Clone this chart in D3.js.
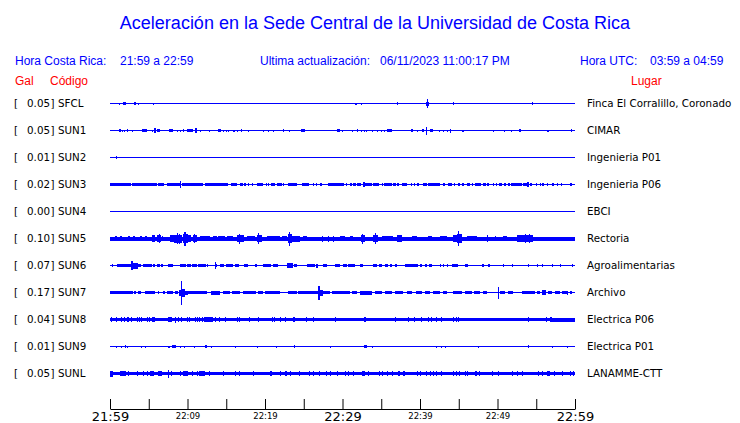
<!DOCTYPE html>
<html>
<head>
<meta charset="utf-8">
<script src="https://cdn.jsdelivr.net/npm/d3@7"></script>
<style>
  html, body { margin: 0; padding: 0; background: #ffffff; }
  svg { display: block; }
</style>
</head>
<body>
<div id="chart"></div>
<script>
// ---------------- DATA ----------------
const titleText = "Aceleración en la Sede Central de la Universidad de Costa Rica";
const stations = ["SFCL","SUN1","SUN2","SUN3","SUN4","SUN5","SUN6","SUN7","SUN8","SUN9","SUNL"];
const galValues = [0.05, 0.05, 0.01, 0.02, 0.00, 0.10, 0.07, 0.17, 0.04, 0.01, 0.05];
const places = ["Finca El Corralillo, Coronado","CIMAR","Ingenieria P01","Ingenieria P06","EBCI",
  "Rectoria","Agroalimentarias","Archivo","Electrica P06","Electrica P01","LANAMME-CTT"];
// background noise half-amplitude (relative units) per station
const baseAmp = [0.5, 0.5, 0.5, 0.5, 0.5, 2.0, 0.5, 0.6, 1.7, 0.5, 1.7];
// time axis (minutes since 21:59) and tick labels
const tickMinutes = [0,5,10,15,20,25,30,35,40,45,50,55,60];
const tickLabels = ["21:59","","22:09","","22:19","","22:29","","22:39","","22:49","","22:59"];
const tickMajor  = [true,false,false,false,false,false,true,false,false,false,false,false,true];

// events: [start minute, end minute, half-amplitude]
const evSFCL = [[0.55,0.55,0.8],[1.2,1.2,1],[1.72,2.06,1.5],[3.14,3.35,1.5],[3.65,3.65,1],[5.59,5.59,1],
  [31.6,31.6,1],[31.8,31.8,1],[32.4,32.4,1],[37.0,37.0,1.2],[40.75,41.1,2],[40.85,40.95,4.5],[44.2,44.2,1.2],
  [46.7,46.7,0.8],[54.4,54.4,1.2]];
const evSUN1 = [[1.2,1.38,1.5],[1.59,1.59,1],[1.81,1.81,1],[2.15,2.15,1.2],[2.8,2.8,1],[3.13,3.13,0.8],
  [4.17,4.73,1.5],[5.38,5.38,1],[5.68,5.9,2.5],[6.1,6.45,1.5],[7.61,8.09,1.5],[8.6,8.6,1],[9.03,9.03,1],
  [9.46,9.46,1.2],[9.97,10.75,1.5],[10.97,11.18,2.5],[11.6,11.6,1],[12.35,12.35,0.8],[12.8,12.8,1],
  [13.97,14.28,1.5],[14.6,14.6,1],[14.96,14.96,1],[15.26,15.26,1],[15.83,15.83,1],[16.03,16.03,1],
  [16.34,16.34,1],[16.86,17.03,1.3],[17.76,17.76,1],[19.7,19.7,1],[20.12,20.12,0.8],[20.34,20.55,1],
  [21.07,21.07,1],[22.28,22.28,1.3],[23.13,23.13,1],[24.68,25.19,1.3],[26.48,26.48,0.8],[29.28,29.67,1.5],
  [29.97,29.97,1],[30.53,30.53,0.8],[31.18,31.18,1],[31.82,31.82,1.2],[32.34,32.34,1],[32.8,32.8,1],
  [33.02,33.02,1],[33.84,33.84,1],[34.48,34.48,1],[34.92,34.92,1],[35.35,35.35,1],[35.69,36.34,1.5],
  [38.83,39.13,1.3],[39.56,39.56,1],[40.21,40.51,1.3],[40.76,40.76,4],[41.28,41.63,1.5],[42.48,42.48,1],
  [43.0,43.0,1],[43.51,43.51,1],[43.86,44.03,2],[45.37,45.37,1],[45.58,45.58,1],[47.73,47.73,0.8],
  [49.45,49.45,1],[49.79,49.79,0.8],[50.86,50.86,1],[51.69,51.69,1],[52.8,52.98,1.5],[56.41,56.67,1],
  [59.51,59.51,1.2]];
const evSUN2 = [[0.81,0.81,1.5]];
const evSUN3 = [[0,2.67,1.7],[2.8,6.02,1.7],[6.15,6.97,1.7],[7.31,9.12,1.7],[9.03,9.03,3.5],[9.25,12.04,1.7],
  [12.26,15.27,1.7],[15.61,16.43,1.5],[16.77,17.11,1.5],[17.33,17.54,1.5],[17.84,17.93,1.5],[18.27,18.27,1.3],
  [18.92,19.78,1.5],[20.08,20.21,1.3],[20.43,20.51,1.3],[20.77,21.29,1.5],[21.5,22.15,1.5],[22.36,22.49,1.3],
  [22.92,24.08,1.5],[24.73,25.71,1.5],[26.14,26.23,1.3],[26.57,26.57,1.3],[27.09,27.31,1.3],[28.08,29.67,1.5],
  [29.67,30.19,1.5],[30.4,30.62,1.5],[30.96,31.18,1.5],[31.39,31.69,1.5],[31.91,32.33,1.5],[32.59,32.9,2.5],
  [32.9,33.76,1.5],[33.97,34.74,1.5],[35.04,35.17,1.5],[35.35,36.34,1.5],[36.55,36.9,1.5],[37.07,37.28,1.5],
  [37.62,38.27,1.5],[38.79,38.92,1.5],[39.22,39.35,1.5],[39.65,39.86,1.5],[40.33,40.94,1.5],[41.07,42.57,1.5],
  [42.91,43.22,1.5],[43.56,44.16,1.5],[44.38,44.46,1.5],[44.94,45.15,1.5],[45.45,45.67,1.5],[46.01,46.44,1.5],
  [46.66,46.87,1.5],[47.09,47.82,1.5],[48.16,48.5,1.5],[48.68,48.93,1.5],[49.36,49.54,1.5],[49.79,49.97,1.5],
  [50.22,50.53,1.5],[50.83,51.08,1.5],[51.39,51.6,1.5],[51.69,53.11,1.5],[53.23,53.75,1.5],[53.83,54.05,2.5],
  [54.18,54.4,1.5],[54.95,55.04,1.5],[55.47,55.47,1.5],[55.69,55.99,1.5],[56.33,56.55,1.5],[57.06,57.28,1.5],
  [57.62,57.84,1.5],[58.14,58.27,1.5],[59.34,59.56,1.5]];
const evSUN4 = [];
const evSUN5 = [[0.65,0.86,2.8],[1.29,1.5,2.8],[2.37,2.58,2.8],[3.01,3.23,2.8],[3.87,4.09,2.8],[4.52,4.73,2.8],
  [5.38,5.81,3.2],[6.11,6.54,3.5],[6.3,6.35,4.5],[6.67,6.88,2.8],[7.74,8.26,3.5],[8.26,9.25,4],[8.6,8.7,5.5],
  [8.9,9.0,5],[9.46,10.1,4.5],[9.6,9.75,7],[10.1,10.41,3.5],[10.75,11.18,3.5],[10.9,11.0,4.5],[11.61,12.9,2.7],
  [13.33,13.76,2.7],[13.98,14.84,2.6],[15.05,15.91,2.7],[16.34,17.29,3.5],[16.6,16.7,5],[17.63,18.7,2.6],
  [18.92,19.56,3.5],[19.1,19.2,5.5],[20.21,21.93,2.5],[22.15,22.79,2.8],[23.0,23.43,4.5],[23.1,23.2,7],
  [23.43,24.51,3],[24.94,25.37,2.8],[27.3,27.3,3],[28.17,28.17,3],[28.81,28.81,3],[29.67,30.32,2.8],
  [30.96,31.39,2.8],[32.34,32.9,3.5],[32.5,32.6,5],[33.97,34.62,3.5],[34.2,34.3,5.5],[35.04,36.55,2.8],
  [36.98,37.63,3.2],[37.2,37.3,3.8],[38.92,39.56,2.8],[41.07,41.5,2.8],[42.57,43.43,2.6],[44.29,44.8,3.5],
  [44.8,45.37,4.5],[44.95,45.05,7.5],[46.01,47.3,2.8],[48.59,48.59,3.2],[49.67,49.67,2.8],[50.74,51.17,2.8],
  [52.46,53.11,3.2],[53.11,54.61,3.5],[53.5,53.6,4.7],[54.0,54.1,4.5]];
const evSUN6 = [[0.22,0.22,1.5],[0.86,2.79,1.5],[2.71,3.01,4.5],[3.01,3.57,3],[3.57,3.96,1.5],[4.3,5.38,1.5],
  [5.59,5.81,1.5],[6.11,6.45,1.5],[6.58,6.88,1.5],[7.53,8.08,1.5],[9.03,9.8,1.5],[9.98,10.41,1.5],
  [10.54,11.18,1.5],[11.39,12.38,1.5],[12.47,12.69,1.5],[13.55,13.55,3.5],[13.55,13.85,1.5],[14.19,14.71,1.5],
  [14.96,15.91,1.5],[16.13,16.68,1.5],[17.29,17.84,1.5],[18.7,18.92,1.5],[19.78,20.73,1.5],[21.07,21.72,1.5],
  [22.79,23.65,2.5],[23.78,24.08,1.5],[25.37,26.45,1.5],[26.57,26.87,2],[27.52,27.95,1.5],[29.03,29.67,1.5],
  [30.1,30.53,1.5],[30.75,31.6,1.5],[32.25,32.68,1.5],[33.97,34.4,1.5],[34.74,35.04,1.5],[35.47,35.9,1.5],
  [36.12,36.34,1.5],[36.77,37.07,1.5],[38.06,39.78,1.5],[39.99,40.21,1.5],[40.63,40.85,1.5],[41.2,41.5,1.5],
  [42.57,42.57,1.5],[43.0,43.0,1.5],[43.43,43.65,1.5],[44.08,44.94,1.5],[45.8,46.23,1.5],[47.95,48.25,1.5],
  [48.8,49.02,1.5],[50.74,50.74,1.5],[51.82,52.03,1.5],[53.97,53.97,1.5],[55.04,55.26,1.5],[55.69,55.9,1.5],
  [56.98,56.98,1.5],[58.05,58.05,1.5],[59.56,59.56,1.5]];
const evSUN7 = [[0,2.92,1.5],[3.14,3.31,1.5],[3.66,3.96,1.5],[4.52,5.81,1.5],[6.24,6.24,1.5],[6.8,7.1,1.5],
  [7.31,8.17,1.5],[8.39,8.82,1.5],[8.94,9.16,3],[9.16,9.29,12],[9.29,9.68,4],[9.68,10.1,2],[10.1,12.47,1.5],
  [13.03,14.19,2],[14.53,15.48,1.5],[15.7,16.77,1.5],[17.11,18.83,1.5],[19.13,19.78,1.5],[20.0,21.93,1.5],
  [23.0,24.08,1.5],[24.29,26.87,1.5],[26.87,27.09,7],[27.09,27.43,3],[27.52,28.38,1.5],[28.6,29.67,1.5],
  [29.67,30.96,1.5],[31.18,31.82,1.5],[32.25,33.76,2],[34.18,35.04,1.5],[35.47,36.34,1.5],[36.77,37.84,1.5],
  [38.27,38.92,1.5],[39.47,40.21,1.5],[40.63,41.28,1.5],[41.62,42.57,1.5],[43.0,43.43,1.5],[44.29,45.37,1.5],
  [45.8,46.66,1.5],[47.0,47.73,1.5],[48.16,48.59,1.5],[50.1,50.1,6],[50.31,50.96,1.5],[51.39,52.03,1.5],
  [53.11,54.83,1.5],[55.04,55.47,1.5],[55.69,56.24,2.5],[56.55,56.98,1.5],[57.41,58.05,1.5],[58.27,58.91,1.5],
  [58.91,58.91,2],[59.34,59.56,1.5]];
const evSUN8 = [[0.13,0.13,2.5],[0.77,0.77,2.5],[1.42,1.42,2.5],[1.81,1.81,2.5],[2.15,2.15,2.5],[2.37,2.37,2.5],
  [2.71,2.71,2.5],[3.53,3.53,2.5],[3.78,3.78,2.5],[4.04,4.04,2.5],[4.73,4.73,2.5],[5.07,5.07,2.5],
  [5.38,5.81,2.2],[7.53,7.96,2.3],[8.39,8.39,3],[8.82,8.82,2.5],[9.12,9.12,2.5],[9.98,9.98,2.5],
  [10.23,10.23,2.5],[10.97,10.97,2.5],[11.18,11.18,2.5],[11.52,11.52,2.5],[11.82,11.82,2.5],[12.13,13.33,2.5],
  [13.55,13.55,2.5],[14.1,14.1,2.5],[14.84,14.84,2.5],[16.34,16.34,2.5],[16.68,16.68,2.5],[17.97,17.97,2.5],
  [19.13,19.13,2.5],[20.86,20.86,2.5],[21.16,21.16,2.5],[21.93,21.93,2.5],[22.58,22.58,2.5],[23.56,23.86,2.3],
  [25.28,25.28,2.5],[26.23,26.23,2.5],[29.03,29.03,2.5],[32.77,33.02,2.5],[36.77,36.77,2.5],[38.49,38.49,2.5],
  [39.22,39.22,2.5],[40.12,40.12,2.5],[41.07,41.07,2.5],[41.37,41.37,2.5],[42.05,42.05,2.5],[42.66,42.66,2.5],
  [44.2,44.2,2.5],[44.59,44.59,2.5],[44.94,44.94,2.5],[53.97,53.97,2.5],[56.24,56.24,2.5],[56.76,56.98,2.5],
  [56.98,60,2]];
const evSUN9 = [[0.77,0.77,1],[1.38,1.38,1],[1.93,1.93,1.5],[2.24,2.24,1],[4.0,4.0,1],[4.52,4.52,1],
  [7.53,7.74,1],[7.96,8.52,1.5],[9.03,9.03,1],[9.59,9.59,1],[10.84,10.84,1],[12.26,12.56,1.2],[13.03,13.03,1],
  [16.13,16.13,1],[19.0,19.0,1],[21.37,21.37,1],[23.78,23.78,1.2],[28.38,28.38,1],[32.77,33.11,1.5],
  [33.84,33.84,1],[42.01,42.01,1],[42.7,42.7,1],[43.26,43.26,1],[47.43,47.43,1],[53.97,53.97,1.2],
  [57.06,57.06,1],[58.91,58.91,1]];
const evSUNL = [[0,0.34,3],[1.29,2.07,2.5],[2.37,2.37,2.5],[3.44,3.66,2.5],[4.3,4.3,2.5],[4.73,4.73,2.5],
  [5.16,5.72,2.5],[6.24,6.67,2.5],[7.53,7.53,4],[7.83,7.83,2.5],[9.03,9.03,2.5],[9.46,10.1,2.5],
  [10.54,10.54,2.5],[11.18,11.18,2.5],[11.52,12.26,2.5],[12.81,12.81,2.5],[14.53,14.53,2.5],[16.13,16.13,2.5],
  [16.68,16.68,2.5],[18.4,18.4,2.5],[20.64,20.86,2.5],[21.93,21.93,2.5],[22.58,22.79,2.5],[23.22,23.22,2.5],
  [24.42,24.42,2.5],[25.71,25.71,2.5],[26.23,26.23,2.5],[27.0,27.0,2.5],[27.86,27.86,2.5],[28.38,28.38,2.5],
  [29.24,29.24,2.5],[30.32,30.32,2.5],[30.75,30.75,2.5],[31.39,31.39,2.5],[32.47,32.9,2.5],[33.24,33.24,2.5],
  [34.7,34.7,2.5],[35.04,35.26,2.5],[35.69,35.69,2.5],[36.34,36.34,2.5],[37.2,37.41,2.5],[37.84,38.06,2.5],
  [39.56,39.56,2.5],[39.99,39.99,2.5],[40.76,40.76,2.5],[41.28,41.28,2.5],[41.71,41.71,2.5],[42.05,42.05,2.5],
  [42.66,42.66,2.5],[44.29,44.29,2.5],[44.59,44.59,2.5],[45.02,45.02,2.5],[45.8,45.8,2.5],[46.1,46.1,2.5],
  [47.09,47.3,2.5],[47.64,47.64,2.8],[49.23,49.23,2.5],[50.1,50.1,2.5],[51.82,51.82,2.5],[52.46,52.46,2.5],
  [53.11,53.32,2.5],[55.26,55.26,2.5],[55.69,55.69,2.5],[56.33,56.33,2.5],[56.55,56.76,2.8],[57.28,57.28,2.5],
  [58.27,58.27,2.5],[59.34,59.34,2.5],[59.77,59.77,2.5]];
const events = [evSFCL, evSUN1, evSUN2, evSUN3, evSUN4, evSUN5, evSUN6, evSUN7, evSUN8, evSUN9, evSUNL];

// ---------------- DRAW ----------------
const W = 740, H = 423;
const BLUE = "#0000ff", RED = "#ff0000";
const svg = d3.select("#chart").append("svg").attr("width", W).attr("height", H);

const t0 = new Date(2023, 5, 11, 21, 59, 0);
const toDate = m => new Date(t0.getTime() + m * 60000);
const x = d3.scaleTime().domain([toDate(0), toDate(60)]).range([110, 575]);
const y = d3.scalePoint().domain(stations).range([103.5, 373.5]);
const a = d3.scaleLinear().domain([0, 10]).range([0, 10]);

// title + headers
svg.append("text").attr("x", 375).attr("y", 29).attr("text-anchor", "middle")
  .attr("font-family", "Liberation Sans, Arial, sans-serif").attr("font-size", 18)
  .attr("fill", BLUE).text(titleText);

const hdr = [
  {x: 15, y: 65, t: "Hora Costa Rica:", c: BLUE},
  {x: 120, y: 65, t: "21:59 a 22:59", c: BLUE},
  {x: 260, y: 65, t: "Ultima actualización:", c: BLUE},
  {x: 380, y: 65, t: "06/11/2023 11:00:17 PM", c: BLUE},
  {x: 580, y: 65, t: "Hora UTC:", c: BLUE},
  {x: 650, y: 65, t: "03:59 a 04:59", c: BLUE},
  {x: 15, y: 85, t: "Gal", c: RED},
  {x: 50, y: 85, t: "Código", c: RED},
  {x: 631, y: 85, t: "Lugar", c: RED}
];
svg.append("g").selectAll("text").data(hdr).join("text")
  .attr("x", d => d.x).attr("y", d => d.y).attr("fill", d => d.c)
  .attr("font-family", "Liberation Sans, Arial, sans-serif").attr("font-size", 12)
  .text(d => d.t);

// rows
const rows = svg.append("g").selectAll("g.row").data(stations).join("g").attr("class", "row");
const lblFont = "DejaVu Sans, sans-serif", lblSize = 10.3;

rows.append("text").attr("x", 14).attr("y", d => y(d) + 3.5)
  .attr("font-family", lblFont).attr("font-size", lblSize).text("[");
rows.append("text").attr("x", 50).attr("y", d => y(d) + 3.5).attr("text-anchor", "end")
  .attr("font-family", lblFont).attr("font-size", lblSize).text((d, i) => galValues[i].toFixed(2));
rows.append("text").attr("x", 50.5).attr("y", d => y(d) + 3.5)
  .attr("font-family", lblFont).attr("font-size", lblSize).text("]");
rows.append("text").attr("x", 58).attr("y", d => y(d) + 3.5)
  .attr("font-family", lblFont).attr("font-size", lblSize).text(d => d);
rows.append("text").attr("x", 587).attr("y", d => y(d) + 3.5)
  .attr("font-family", lblFont).attr("font-size", lblSize).text((d, i) => places[i]);

// base traces
rows.append("rect")
  .attr("x", x(toDate(0))).attr("width", x(toDate(60)) - x(toDate(0)))
  .attr("y", (d, i) => y(d) - Math.max(0.5, a(baseAmp[i])))
  .attr("height", (d, i) => 2 * Math.max(0.5, a(baseAmp[i])))
  .attr("fill", BLUE).attr("shape-rendering", "crispEdges");

// events
rows.each(function (st, i) {
  d3.select(this).selectAll("rect.ev").data(events[i]).join("rect").attr("class", "ev")
    .attr("x", e => x(toDate(e[0])))
    .attr("width", e => Math.max(1, x(toDate(e[1])) - x(toDate(e[0]))))
    .attr("y", e => y(st) - a(e[2]))
    .attr("height", e => 2 * a(e[2]))
    .attr("fill", BLUE).attr("shape-rendering", "crispEdges");
});

// time axis
const axis = d3.axisBottom(x)
  .tickValues(tickMinutes.map(toDate))
  .tickSizeInner(-10).tickSizeOuter(0)
  .tickFormat((d, i) => tickLabels[i]);
const gAxis = svg.append("g").attr("transform", "translate(0,409)").call(axis);
gAxis.select(".domain").attr("stroke", "#000");
gAxis.selectAll(".tick line").attr("stroke", "#000");
gAxis.selectAll(".tick text")
  .attr("fill", "#000").attr("font-family", lblFont)
  .attr("dy", null)
  .attr("y", (d, i) => tickMajor[i] ? 11.5 : 9.5)
  .attr("font-size", (d, i) => tickMajor[i] ? 13 : 8.5);
</script>
</body>
</html>
